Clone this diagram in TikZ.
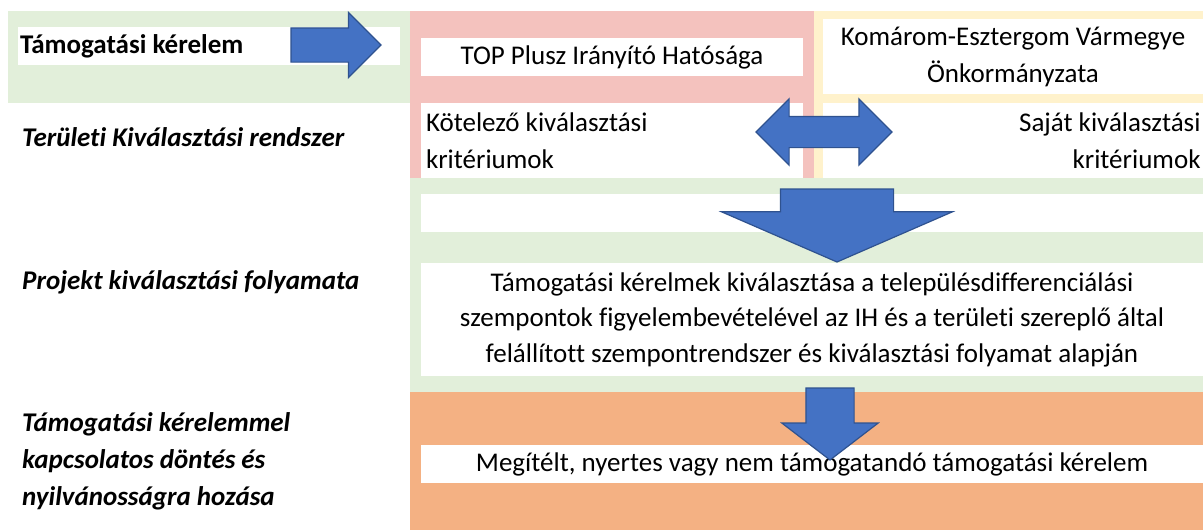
\documentclass[tikz,border=0pt]{standalone}
\usepackage{fontspec}
\setmainfont{Carlito}[Ligatures={TeX,NoCommon}]
\usetikzlibrary{shapes}
\definecolor{grn}{HTML}{E2EFDA}
\definecolor{pnk}{HTML}{F4C2BE}
\definecolor{ylw}{HTML}{FFF2CC}
\definecolor{orn}{HTML}{F4B183}
\definecolor{blu}{HTML}{4472C4}
\definecolor{bluline}{HTML}{2F528F}
\tikzset{
  basic/.style  = {rectangle, inner sep=0pt, outer sep=0pt, anchor=north west,
                   font=\fontsize{27}{37}\selectfont},
  panel/.style  = {basic},
  box/.style    = {basic, fill=white, align=center},
  side/.style   = {anchor=west, inner sep=0pt, align=flush left,
                   font=\fontsize{27}{37}\selectfont\bfseries\itshape},
  blockarrow/.style = {fill=blu, draw=bluline, line width=1.2pt,
                   inner xsep=0pt, outer sep=0pt}
}

\begin{document}
\begin{tikzpicture}[x=1pt, y=-1pt]

%\draw[help lines, color=gray!30, dashed] (0,0) grid[step=50] (1203,530);
\useasboundingbox (0,0) rectangle (1203,530);

\foreach \px/\py/\pw/\ph/\pc/\pn in {8/11/402/92/grn/KerelemPanel,
    410/11/404/167/pnk/IHPanel, 814/11/389/167/ylw/MegyePanel,
    410/178/793/214/grn/FolyamatPanel, 410/392/793/138/orn/DontesPanel}{
    \node[panel, fill=\pc, minimum width=\pw, minimum height=\ph] (\pn) at (\px,\py) {};
    }

\node[box, minimum width=382, minimum height=38, text width=378, inner xsep=2pt,
      align=flush left, font=\fontsize{27}{37}\selectfont\bfseries] (Kerelem) at (18,27)
      {Támogatási kérelem};
\node[box, minimum width=382, minimum height=38] (IH) at (421,38)
      {TOP Plusz Irányító Hatósága};
\node[box, minimum width=380, minimum height=75] (Megye) at (823,19)
      {Komárom-Esztergom Vármegye\\Önkormányzata};
\node[box, minimum width=382, minimum height=75, text width=372, inner xsep=5pt,
      align=flush left] (Kotelezo) at (421,103) {Kötelező kiválasztási\\kritériumok};
\node[box, minimum width=380, minimum height=75, text width=375, inner xsep=2.5pt,
      align=flush right] (Sajat) at (823,103) {Saját kiválasztási\\kritériumok};
\node[box, minimum width=782, minimum height=38] (Ures) at (421,194) {};
\node[box, minimum width=782, minimum height=113, font=\fontsize{27}{35.5}\selectfont]
      (Kivalasztas) at (421,263)
      {Támogatási kérelmek kiválasztása a településdifferenciálási\\
       szempontok figyelembevételével az IH és a területi szereplő által\\
       felállított szempontrendszer és kiválasztási folyamat alapján};
\node[box, minimum width=782, minimum height=38] (Megitelt) at (421,445)
      {Megítélt, nyertes vagy nem támogatandó támogatási kérelem};

\node[side] (Teruleti) at (22,137) {Területi Kiválasztási rendszer};
\node[side] (Projekt) at (22,282) {Projekt kiválasztási folyamata};
\node[side] (Dontes) at (22,461) {Támogatási kérelemmel\\kapcsolatos döntés és\\nyilvánosságra hozása};

\node[blockarrow, single arrow, anchor=tail, single arrow tip angle=90,
      single arrow head extend=15.5pt, minimum height=90, minimum width=64,
      inner ysep=16.5pt] (toIH) at (291,45) {};
\node[blockarrow, double arrow, double arrow tip angle=90, double arrow head extend=17.5pt,
      minimum height=136, minimum width=65, inner ysep=15pt] (Kolcsonos) at (824,132) {};
\node[blockarrow, single arrow, anchor=tail, rotate=-90, single arrow tip angle=133,
      single arrow head extend=59pt, minimum height=73, minimum width=230,
      inner ysep=56pt] (LeFolyamat) at (837,189) {};
\node[blockarrow, single arrow, anchor=tail, rotate=-90, single arrow tip angle=105,
      single arrow head extend=24pt, minimum height=72, minimum width=95,
      inner ysep=23.5pt] (LeDontes) at (830,388) {};

\end{tikzpicture}
\end{document}
